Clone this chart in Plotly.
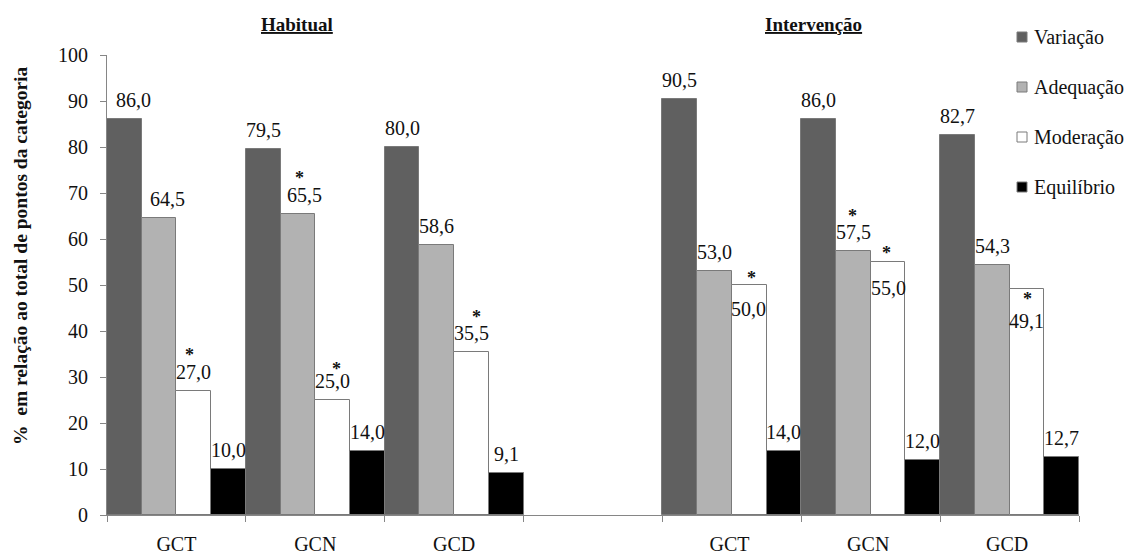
import plotly.graph_objects as go

# Categories: two blocks of groups separated by an empty slot
groups = ["GCT", "GCN", "GCD"]
block_titles = ["Habitual", "Intervenção"]
series_names = ["Variação", "Adequação", "Moderação", "Equilíbrio"]

# Percentages per series, ordered GCT, GCN, GCD
habitual_variacao = [86.0, 79.5, 80.0]
habitual_adequacao = [64.5, 65.5, 58.6]
habitual_moderacao = [27.0, 25.0, 35.5]
habitual_equilibrio = [10.0, 14.0, 9.1]

intervencao_variacao = [90.5, 86.0, 82.7]
intervencao_adequacao = [53.0, 57.5, 54.3]
intervencao_moderacao = [50.0, 55.0, 49.1]
intervencao_equilibrio = [14.0, 12.0, 12.7]

# Bars flagged with a significance asterisk (series index, slot index)
significant = [(1, 1), (2, 0), (2, 1), (2, 2), (2, 4), (1, 5), (2, 5), (2, 6)]

y_ticks = [0, 10, 20, 30, 40, 50, 60, 70, 80, 90, 100]

# ---- styling / geometry ----
FONT = "Times New Roman, Liberation Serif, serif"
FS = 20
TXT = "#111111"
AXIS = "#868686"
EDGE = "#7a7a7a"
fills = ["#606060", "#b2b2b2", "#ffffff", "#000000"]

W, H = 1141, 553
ML, MR, MT, MB = 107, 62, 55, 38
PW, PH = W - ML - MR, H - MT - MB

# unique slot ids (trailing spaces keep repeated names apart)
slots = ["GCT", "GCN", "GCD", " ", "GCT ", "GCN ", "GCD "]
series_values = [
    habitual_variacao + [None] + intervencao_variacao,
    habitual_adequacao + [None] + intervencao_adequacao,
    habitual_moderacao + [None] + intervencao_moderacao,
    habitual_equilibrio + [None] + intervencao_equilibrio,
]


def fmt(v):
    return f"{v:.1f}".replace(".", ",")


fig = go.Figure()
for name, vals, col in zip(series_names, series_values, fills):
    fig.add_trace(go.Bar(
        name=name, x=slots, y=vals,
        marker=dict(color=col, line=dict(color=EDGE, width=1)),
        showlegend=False, hoverinfo="skip",
    ))

slot_px = PW / len(slots)
bar_px = slot_px / 4

# label tweaks: (series, slot) -> (dx, dy) in px; default sits above the bar
label_adjust = {
    (0, 0): (9, 19), (1, 0): (8, 19), (1, 1): (7, 19),
    (2, 4): (-1, -24), (2, 5): (0, -26), (2, 6): (0, -32),
}
star_adjust = {
    (1, 1): (2, 37), (2, 0): (-4, 37), (2, 1): (4, 32), (2, 2): (5, 36),
    (2, 4): (2, 8), (1, 5): (-1, 36), (2, 5): (-2, 10), (2, 6): (1, -9),
}

annotations = []
for si, vals in enumerate(series_values):
    off = (si - 1.5) * bar_px
    for ci, v in enumerate(vals):
        if v is None:
            continue
        dx, dy = label_adjust.get((si, ci), (0, 19))
        annotations.append(dict(
            x=slots[ci], y=v, xref="x", yref="y", text=fmt(v), showarrow=False,
            xshift=off + dx, yshift=dy, xanchor="center", yanchor="middle",
            font=dict(family=FONT, size=FS, color=TXT),
        ))

for si, ci in significant:
    v = series_values[si][ci]
    off = (si - 1.5) * bar_px
    dx, dy = star_adjust[(si, ci)]
    annotations.append(dict(
        x=slots[ci], y=v, xref="x", yref="y", text="<b>*</b>", showarrow=False,
        xshift=off + dx, yshift=dy - 1, xanchor="center", yanchor="middle",
        font=dict(family=FONT, size=18, color=TXT),
    ))


def px_x(px):
    return (px - ML) / PW


def px_y(py):
    return (H - MB - py) / PH


# block titles
for title, cx in zip(block_titles, [297, 813]):
    annotations.append(dict(
        x=px_x(cx), y=px_y(25), xref="paper", yref="paper",
        text=f"<b><u>{title}</u></b>", showarrow=False,
        xanchor="center", yanchor="middle",
        font=dict(family=FONT, size=19, color=TXT),
    ))

# y axis title
annotations.append(dict(
    x=px_x(20), y=px_y(256), xref="paper", yref="paper",
    text="<b>%  em relação ao total de pontos da categoria</b>",
    textangle=-90, showarrow=False, xanchor="center", yanchor="middle",
    font=dict(family=FONT, size=19.5, color=TXT),
))

# legend drawn as swatches + text
shapes = []
for i, (name, col) in enumerate(zip(series_names, fills)):
    cy = 37 + i * 50
    shapes.append(dict(
        type="rect", xref="paper", yref="paper",
        x0=px_x(1017), x1=px_x(1027), y0=px_y(cy + 5), y1=px_y(cy - 5),
        fillcolor=col, line=dict(color=EDGE, width=1),
    ))
    annotations.append(dict(
        x=px_x(1032), y=px_y(cy), xref="paper", yref="paper",
        text=name, showarrow=False, xanchor="left", yanchor="middle",
        font=dict(family=FONT, size=FS, color=TXT),
    ))

fig.update_layout(
    width=W, height=H, autosize=False,
    margin=dict(l=ML, r=MR, t=MT, b=MB, pad=0, autoexpand=False),
    paper_bgcolor="white", plot_bgcolor="white",
    barmode="group", bargap=0, bargroupgap=0,
    font=dict(family=FONT, size=FS, color=TXT),
    annotations=annotations, shapes=shapes,
    showlegend=False,
)
fig.update_xaxes(
    type="category", categoryorder="array", categoryarray=slots,
    range=[-0.5, len(slots) - 0.5], automargin=False,
    showline=True, linecolor=AXIS, linewidth=1,
    ticks="outside", tickson="boundaries", ticklen=6, tickcolor=AXIS,
    ticklabelstandoff=11, showgrid=False, zeroline=False,
    tickfont=dict(family=FONT, size=FS, color=TXT),
)
fig.update_yaxes(
    range=[0, 100], tickvals=y_ticks, automargin=False,
    showline=True, linecolor=AXIS, linewidth=1,
    ticks="outside", ticklen=6, tickcolor=AXIS,
    ticklabelstandoff=8, showgrid=False, zeroline=False,
    tickfont=dict(family=FONT, size=FS, color=TXT),
)

fig.write_html("out.html")
